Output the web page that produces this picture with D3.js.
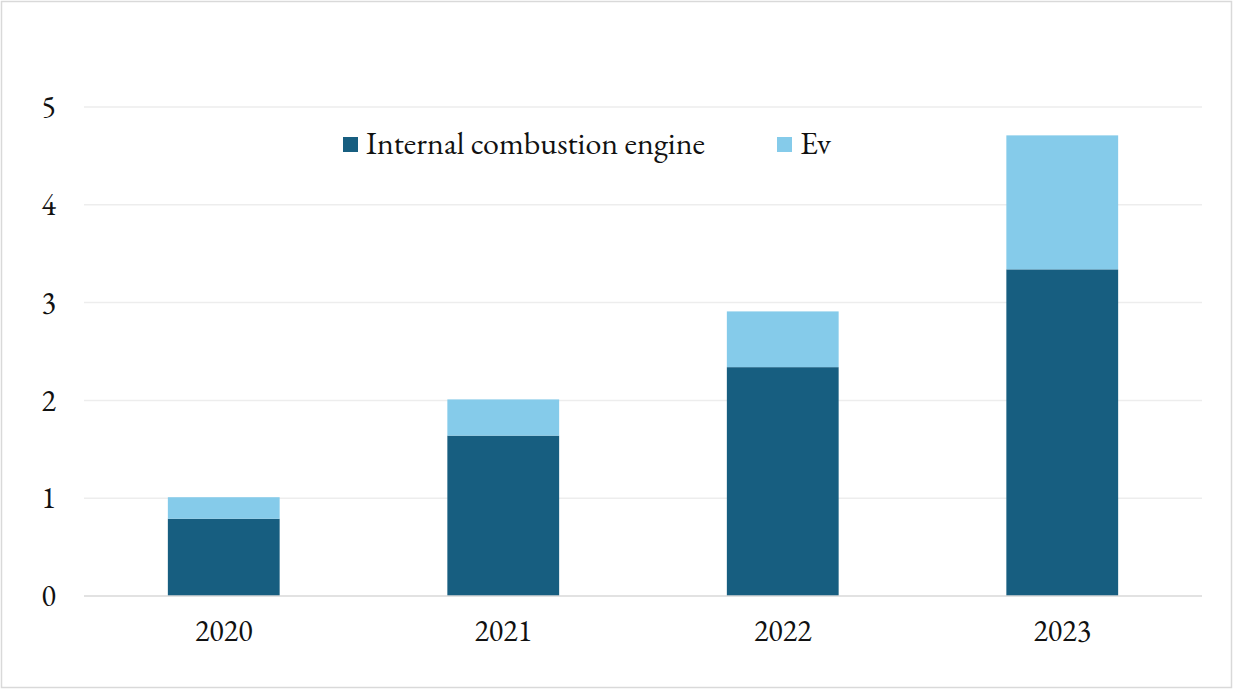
<!DOCTYPE html>
<html>
<head>
<meta charset="utf-8">
<script src="https://cdn.jsdelivr.net/npm/d3@7"></script>
<style>
  body { margin: 0; background: #fff; }
  svg text { font-family: "EB Garamond", Garamond, "Liberation Serif", serif; fill: #111; }
</style>
</head>
<body>
<div id="chart"></div>
<script>
var years = ["2020", "2021", "2022", "2023"];
var iceValues = [0.79, 1.64, 2.34, 3.34];
var evValues = [0.22, 0.37, 0.57, 1.37];
var seriesNames = ["Internal combustion engine", "Ev"];
var yTicks = [0, 1, 2, 3, 4, 5];

var colors = ["#175e80", "#85cbea"];

var svg = d3.select("#chart").append("svg")
    .attr("width", 1233)
    .attr("height", 690);

// outer frame
svg.append("rect")
    .attr("x", 1.5).attr("y", 1.5)
    .attr("width", 1230).attr("height", 686)
    .attr("fill", "none")
    .attr("stroke", "#d9d9d9")
    .attr("stroke-width", 1.5);

var margin = { left: 84, right: 31, top: 107, bottom: 94 };
var width = 1233 - margin.left - margin.right,
    height = 690 - margin.top - margin.bottom;

var g = svg.append("g").attr("transform", "translate(" + margin.left + "," + margin.top + ")");

var x = d3.scaleBand().domain(years).range([0, width]).paddingInner(0.6).paddingOuter(0.3);
var y = d3.scaleLinear().domain([0, 5]).range([height, 0]);

// gridlines
g.selectAll(".grid")
 .data(yTicks.filter(d => d > 0))
 .enter().append("line")
 .attr("x1", 0).attr("x2", width)
 .attr("y1", d => y(d)).attr("y2", d => y(d))
 .attr("stroke", "#ededed")
 .attr("stroke-width", 1.5);

var rows = years.map((yr, i) => ({ year: yr, ice: iceValues[i], ev: evValues[i] }));
var stack = d3.stack().keys(["ice", "ev"])(rows);

g.selectAll(".layer")
 .data(stack)
 .enter().append("g")
 .attr("fill", (d, i) => colors[i])
 .selectAll("rect")
 .data(d => d)
 .enter().append("rect")
 .attr("x", d => x(d.data.year))
 .attr("y", d => y(d[1]))
 .attr("width", x.bandwidth())
 .attr("height", d => y(d[0]) - y(d[1]));

// baseline
g.append("line")
 .attr("x1", 0).attr("x2", width)
 .attr("y1", y(0)).attr("y2", y(0))
 .attr("stroke", "#d9d9d9")
 .attr("stroke-width", 1.5);

// y axis labels
var yAxis = g.append("g")
 .attr("transform", "translate(-28,0)")
 .call(d3.axisLeft(y).tickValues(yTicks).tickFormat(d3.format("d")).tickSize(0).tickPadding(0));
yAxis.select(".domain").remove();
yAxis.selectAll("text").style("font-size", "30px").attr("fill", "#111");

// x axis labels
var xAxis = g.append("g")
 .attr("transform", "translate(0," + (height + 24) + ")")
 .call(d3.axisBottom(x).tickSize(0).tickPadding(0));
xAxis.select(".domain").remove();
xAxis.selectAll("text").style("font-size", "30px").attr("fill", "#111");

// legend
var legendX = [343, 777];
var legend = svg.selectAll(".legend")
 .data(seriesNames)
 .enter().append("g")
 .attr("transform", (d, i) => "translate(" + legendX[i] + ",137)");
legend.append("rect")
 .attr("width", 15).attr("height", 15)
 .attr("fill", (d, i) => colors[i]);
legend.append("text")
 .attr("x", 23).attr("y", 17)
 .style("font-size", "32px")
 .text(d => d);
</script>
</body>
</html>
